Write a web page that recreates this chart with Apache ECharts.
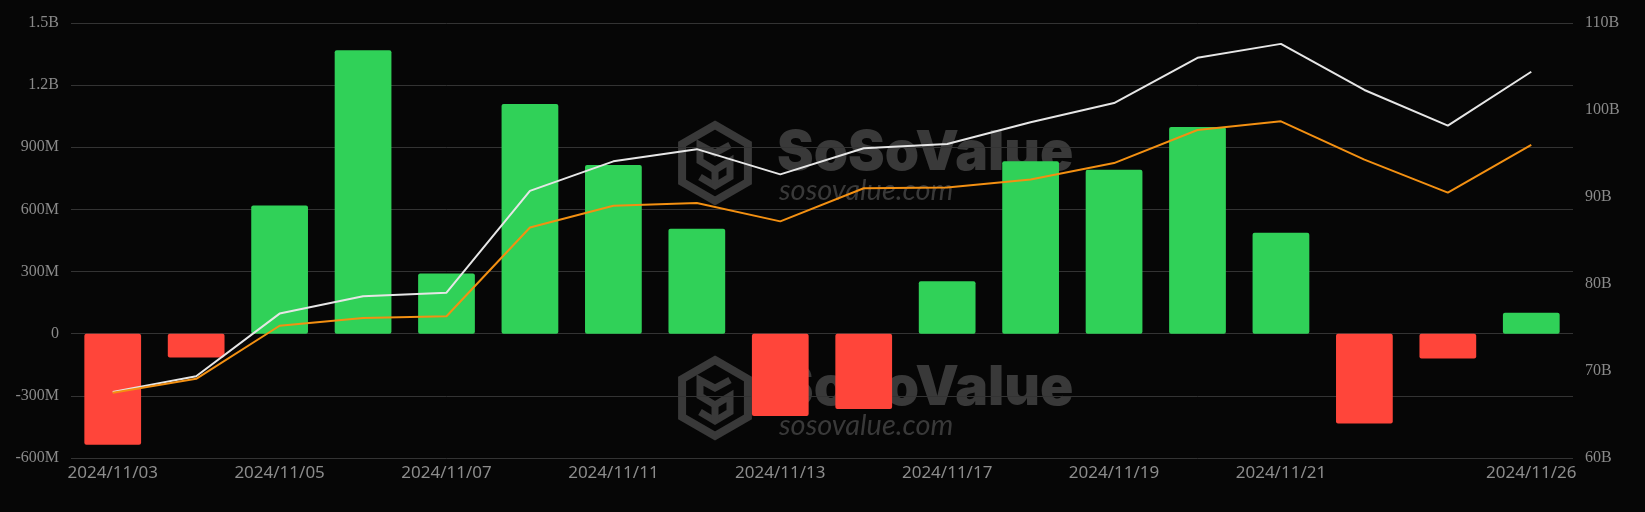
<!DOCTYPE html>
<html>
<head>
<meta charset="utf-8">
<script src="https://cdn.jsdelivr.net/npm/echarts@6/dist/echarts.min.js"></script>
<style>
html,body{margin:0;padding:0;background:#060606;}
#chart{width:1645px;height:512px;}
</style>
</head>
<body>
<div id="chart"></div>
<script>
const categories = ['2024/11/03','2024/11/04','2024/11/05','2024/11/06','2024/11/07','2024/11/08','2024/11/11','2024/11/12','2024/11/13','2024/11/14','2024/11/17','2024/11/18','2024/11/19','2024/11/20','2024/11/21','2024/11/22','2024/11/25','2024/11/26'];
// daily net inflow (USD)
const netInflow = [-536e6,-115e6,619e6,1368e6,291e6,1109e6,814e6,507e6,-397e6,-363e6,253e6,832e6,792e6,998e6,488e6,-434e6,-120e6,101e6];
// total net assets (USD)
const totalAssets = [67.6e9,69.4e9,76.6e9,78.6e9,79.0e9,90.7e9,94.1e9,95.5e9,92.6e9,95.6e9,96.1e9,98.6e9,100.8e9,106.0e9,107.6e9,102.3e9,98.2e9,104.4e9];
// cumulative net inflow (USD)
const cumInflow = [67.5e9,69.1e9,75.2e9,76.1e9,76.3e9,86.5e9,89.0e9,89.3e9,87.2e9,91.0e9,91.1e9,92.0e9,93.9e9,97.7e9,98.7e9,94.3e9,90.5e9,96.0e9];
const leftTicks = {min:-600e6, max:1500e6, interval:300e6};
const rightTicks = {min:60e9, max:110e9, interval:10e9};

const chart = echarts.init(document.getElementById('chart'));
const wmColor = '#393939';
function watermark(cx, cy){
  const r = 38;
  const hex = [];
  for(let i=0;i<6;i++){
    const a = Math.PI/180*(60*i-90);
    hex.push([cx + r*Math.cos(a), cy + r*Math.sin(a)]);
  }
  return [
    {type:'polygon', shape:{points:hex}, style:{fill:'none', stroke:wmColor, lineWidth:8, lineJoin:'miter'}, z:-10},
    {type:'polyline', shape:{points:[[cx+15,cy-18],[cx,cy-10],[cx-15,cy-18],[cx-15,cy-2],[cx,cy+7],[cx+15,cy-2],[cx+15,cy+14],[cx,cy+23],[cx-15,cy+14]]}, style:{fill:'none', stroke:wmColor, lineWidth:7}, z:-10},
    {type:'polyline', shape:{points:[[cx,cy+7],[cx,cy+23]]}, style:{fill:'none', stroke:wmColor, lineWidth:7}, z:-10},
    {type:'text', x:777, y:cy+18, style:{text:'SoSoValue', font:'900 55px Inter', fill:wmColor, textVerticalAlign:'bottom'}, z:-10},
    {type:'text', x:779, y:cy+42, style:{text:'sosovalue.com', font:'italic 29px Lato', fill:wmColor, textVerticalAlign:'bottom'}, z:-10}
  ];
}
function fmtLeft(v){
  if(v===0) return '0';
  if(Math.abs(v)>=1e9) return (v/1e9).toFixed(1)+'B';
  return Math.round(v/1e6)+'M';
}
chart.setOption({
  backgroundColor:'#060606',
  animation:false,
  graphic: watermark(715,163).concat(watermark(715,398)),
  grid:{left:71, right:72, top:23, bottom:54},
  xAxis:{
    type:'category', data:categories,
    axisLine:{show:false}, axisTick:{show:false},
    axisLabel:{
      color:'#8c8c8c', fontFamily:'Noto Sans', fontSize:17, margin:7,
      interval:function(i){ return (i%2===0 && i<16) || i===categories.length-1; }
    }
  },
  yAxis:[
    {type:'value', min:leftTicks.min, max:leftTicks.max, interval:leftTicks.interval,
     axisLabel:{color:'#8a8a8a', fontFamily:'Liberation Serif', fontSize:16, margin:12, formatter:fmtLeft},
     splitLine:{lineStyle:{color:'#333333', width:1}},
     axisLine:{show:false}, axisTick:{show:false}},
    {type:'value', min:rightTicks.min, max:rightTicks.max, interval:rightTicks.interval,
     axisLabel:{color:'#8a8a8a', fontFamily:'Liberation Serif', fontSize:16, margin:12, formatter:v=>Math.round(v/1e9)+'B'},
     splitLine:{show:false}, axisLine:{show:false}, axisTick:{show:false}}
  ],
  series:[
    {type:'bar', yAxisIndex:0, data:netInflow, barWidth:'68%',
     itemStyle:{borderRadius:2, color:function(p){return p.value>=0?'#30d158':'#ff453a';}}},
    {type:'line', yAxisIndex:1, data:totalAssets, showSymbol:false, symbol:'none',
     lineStyle:{color:'#e6e6e6', width:2}, itemStyle:{color:'#e6e6e6'}},
    {type:'line', yAxisIndex:1, data:cumInflow, showSymbol:false, symbol:'none',
     lineStyle:{color:'#f39012', width:2}, itemStyle:{color:'#f39012'}}
  ]
});
</script>
</body>
</html>
